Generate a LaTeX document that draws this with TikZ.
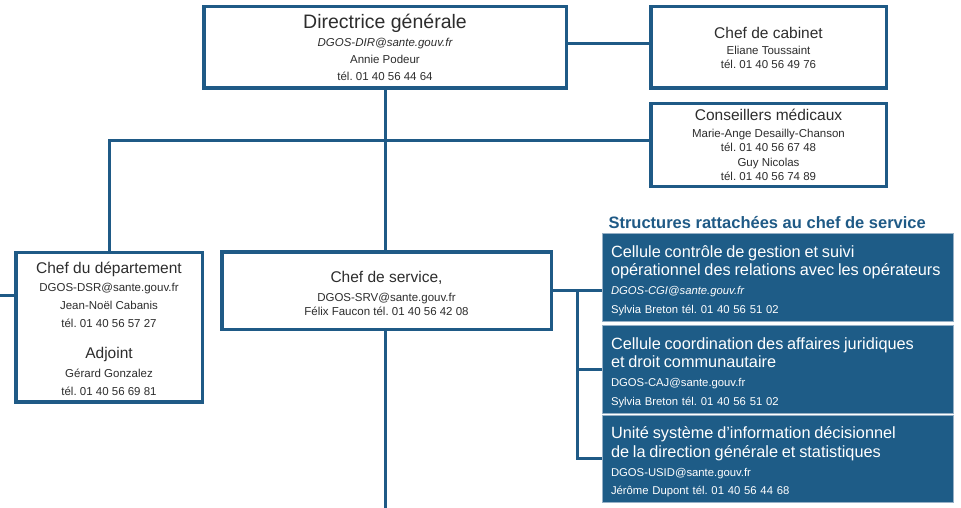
\documentclass[tikz,border=0pt]{standalone}
\usepackage{fontspec}
\setmainfont{Liberation Sans}
\setsansfont{Liberation Sans}
\usepackage{tikz}
\usetikzlibrary{positioning, calc}
\definecolor{bOrg}{RGB}{31, 90, 134}
\definecolor{cCell}{RGB}{30, 92, 135}
\definecolor{bLite}{RGB}{150, 176, 198}
\definecolor{tDark}{RGB}{45, 45, 45}
\newcommand{\bigttl}[1]{{\fontsize{19.5}{22}\selectfont #1}}
\newcommand{\midttl}[1]{{\fontsize{15.5}{19}\selectfont #1}}
\newcommand{\celttl}[1]{{\fontsize{16.3}{18.7}\selectfont #1}}
\newcommand{\celtop}{\rule{0pt}{19pt}}

\begin{document}
\frenchspacing
\begin{tikzpicture}[
    x=1pt, y=-1pt,
    font=\sffamily,
    orgbox/.style={
        draw=bOrg,
        line width=3.5pt,
        fill=white,
        text=tDark,
        align=center,
        inner sep=0pt,
        font=\fontsize{11.5}{#1}\selectfont
    },
    cellbox/.style={
        draw=bLite,
        line width=0.8pt,
        fill=cCell,
        text=white,
        align=left,
        inner xsep=9pt,
        text width=333pt,
        minimum width=351pt,
        font=\fontsize{11.3}{18.7}\selectfont
    },
    link/.style={draw=bOrg, line width=3pt}
]
\useasboundingbox (0,0) rectangle (961,508);

% Direction
\node[orgbox=17, minimum width=362.5pt, minimum height=81.5pt] (dir) at (385, 47.5) {
    \bigttl{Directrice générale}\\[1pt]
    {\itshape DGOS-DIR@sante.gouv.fr}\\
    Annie Podeur\\
    tél. 01 40 56 44 64
};

\node[orgbox=13.5, minimum width=235.5pt, minimum height=81.5pt] (cab) at (768.5, 47.5) {
    \midttl{Chef de cabinet}\\[3pt]
    Eliane Toussaint\\
    tél. 01 40 56 49 76
};

\node[orgbox=14.5, minimum width=235.5pt, minimum height=82.5pt] (cons) at (768.5, 145) {
    \midttl{Conseillers médicaux}\\[2pt]
    Marie-Ange Desailly-Chanson\\
    tél. 01 40 56 67 48\\
    Guy Nicolas\\
    tél. 01 40 56 74 89
};

% Departement and service
\node[orgbox=18, minimum width=186.5pt, minimum height=149.5pt] (dept) at (109, 327) {
    \rule{0pt}{15pt}\midttl{Chef du département}\\
    DGOS-DSR@sante.gouv.fr\\
    Jean-Noël Cabanis\\
    tél. 01 40 56 57 27\\[13pt]
    \midttl{Adjoint}\\[1pt]
    Gérard Gonzalez\\
    tél. 01 40 56 69 81
};

\node[orgbox=14, minimum width=329.5pt, minimum height=77.5pt] (srv) at (386.5, 290.5) {
    \rule{0pt}{18pt}\midttl{Chef de service,}\\[5pt]
    DGOS-SRV@sante.gouv.fr\\
    Félix Faucon tél. 01 40 56 42 08
};

% Structures rattachees
\node[font=\bfseries\fontsize{16.5}{19}\selectfont, text=bOrg, anchor=base west] (strtitle) at (605, 228) {Structures rattachées au chef de service};

\node[cellbox, minimum height=88pt] (cel1) at (777.5, 277) {
    \celtop\celttl{Cellule contrôle de gestion et suivi}\\
    \celttl{opérationnel des relations avec les opérateurs}\\
    {\itshape DGOS-CGI@sante.gouv.fr}\\
    Sylvia Breton tél. 01 40 56 51 02
};

\node[cellbox, minimum height=88pt] (cel2) at (777.5, 369) {
    \celtop\celttl{Cellule coordination des affaires juridiques}\\
    \celttl{et droit communautaire}\\
    DGOS-CAJ@sante.gouv.fr\\
    Sylvia Breton tél. 01 40 56 51 02
};

\node[cellbox, minimum height=87pt] (cel3) at (777.5, 458.5) {
    \celtop\celttl{Unité système d’information décisionnel}\\
    \celttl{de la direction générale et statistiques}\\
    DGOS-USID@sante.gouv.fr\\
    Jérôme Dupont tél. 01 40 56 44 68
};

% Links
\coordinate (bot) at (385, 508);
\coordinate (lstub) at (0, 295);
\coordinate (bus) at ($(srv.east)!0.5!(srv.east -| cel1.west)$);

\draw[link] ([yshift=4pt]dir.east) -- ([yshift=4pt]dir.east -| cab.west);
\draw[link] (dir.south) -- (dir.south |- srv.north);
\draw[link] (dir.south |- srv.south) -- (dir.south |- bot);
\draw[link] (dept.north) |- ([yshift=4pt]cons.west);
\draw[link] (lstub) -- (lstub -| dept.west);
\draw[link] (srv.east) -- (srv.east -| cel1.west);
\draw[link] (bus) |- (cel2.west);
\draw[link] (bus) |- (cel3.west);

\end{tikzpicture}
\end{document}
